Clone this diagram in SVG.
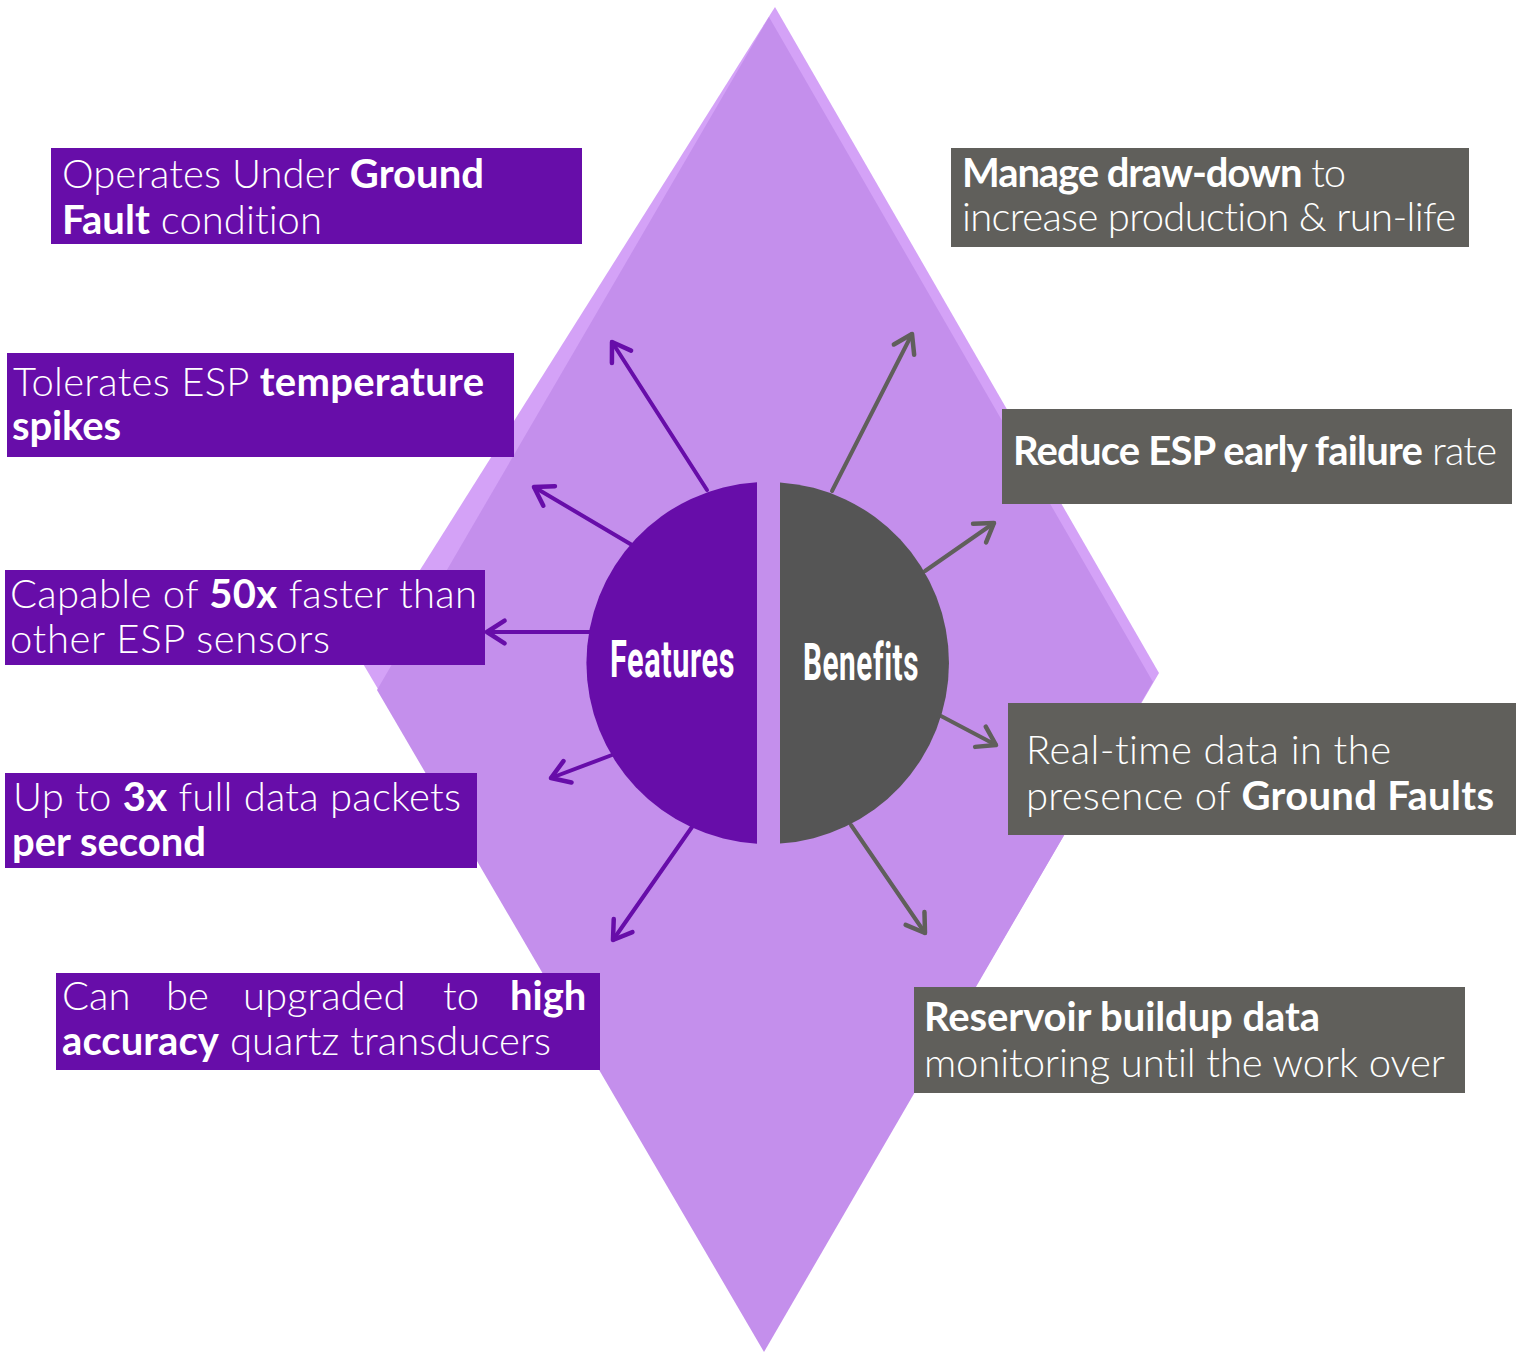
<svg xmlns="http://www.w3.org/2000/svg" width="1517" height="1352" viewBox="0 0 1517 1352">
<style>
.t{font-family:Lato,"Open Sans","Liberation Sans",sans-serif;font-size:40px;fill:#ffffff;font-weight:300;font-variant-ligatures:none}
.b{font-weight:700}
.pbox{fill:#670DA9}
.gbox{fill:#605F5B}
.big{font-family:Roboto,"Liberation Sans",sans-serif;font-weight:700;font-size:52px;fill:#ffffff;font-variant-ligatures:none;letter-spacing:1px}
.fa{fill:none;stroke:#670DA9;stroke-width:4;stroke-linecap:round}
.ba{fill:none;stroke:#605F5B;stroke-width:4;stroke-linecap:round}
</style>
<defs>
<marker id="mp" markerUnits="userSpaceOnUse" orient="auto" refX="0" refY="0" markerWidth="40" markerHeight="40" viewBox="-25 -20 40 40" overflow="visible">
<path d="M-17.6,-11.4 L0,0 L-17.6,11.4" fill="none" stroke="#670DA9" stroke-width="4.5" stroke-linecap="round" stroke-linejoin="round"/>
</marker>
<marker id="mg" markerUnits="userSpaceOnUse" orient="auto" refX="0" refY="0" markerWidth="40" markerHeight="40" viewBox="-25 -20 40 40" overflow="visible">
<path d="M-17.6,-11.4 L0,0 L-17.6,11.4" fill="none" stroke="#605F5B" stroke-width="4.5" stroke-linecap="round" stroke-linejoin="round"/>
</marker>
</defs>
<rect width="1517" height="1352" fill="#ffffff"/>
<g id="diamond">
<polygon points="775,7 1159,673 766,1345 362,662" fill="#D4A2F7"/>
<polygon points="769,17 1153,682 764,1352 377,690" fill="#C48FEC"/>
</g>
<g id="connectors">
<path class="fa" d="M707,490 L612,342" marker-end="url(#mp)"/>
<path class="fa" d="M632,545 L534,487" marker-end="url(#mp)"/>
<path class="fa" d="M590,632 L487,632" marker-end="url(#mp)"/>
<path class="fa" d="M612,755 L551,778" marker-end="url(#mp)"/>
<path class="fa" d="M692,827 L613,940" marker-end="url(#mp)"/>
<path class="ba" d="M832,491 L912,334" marker-end="url(#mg)"/>
<path class="ba" d="M925,571 L994,523" marker-end="url(#mg)"/>
<path class="ba" d="M941,716 L996,745" marker-end="url(#mg)"/>
<path class="ba" d="M851,825 L925,933" marker-end="url(#mg)"/>
</g>
<g id="features">
<path d="M757,482.3 A181,181 0 0 0 757,843.7 Z" fill="#670DA9"/>
<text class="big" x="610" y="677" textLength="125" lengthAdjust="spacingAndGlyphs">Features</text>
</g>
<g id="benefits">
<path d="M780,482.4 A181,181 0 0 1 780,843.6 Z" fill="#555555"/>
<text class="big" x="803" y="680" textLength="116" lengthAdjust="spacingAndGlyphs">Benefits</text>
</g>
<g id="f1">
<rect class="pbox" x="51" y="148" width="531" height="96"/>
<text class="t" x="62" y="188" textLength="422">Operates Under <tspan class="b">Ground</tspan></text>
<text class="t" x="62" y="234" textLength="260"><tspan class="b">Fault</tspan> condition</text>
</g>
<g id="f2">
<rect class="pbox" x="7" y="353" width="507" height="104"/>
<text class="t" x="13" y="396" textLength="471">Tolerates ESP <tspan class="b">temperature</tspan></text>
<text class="t b" x="12" y="440" textLength="109">spikes</text>
</g>
<g id="f3">
<rect class="pbox" x="5" y="570" width="480" height="95"/>
<text class="t" x="10" y="608" textLength="467">Capable of <tspan class="b">50x</tspan> faster than</text>
<text class="t" x="10" y="653" textLength="320">other ESP sensors</text>
</g>
<g id="f4">
<rect class="pbox" x="5" y="773" width="472" height="95"/>
<text class="t" x="13" y="811" textLength="448">Up to <tspan class="b">3x</tspan> full data packets</text>
<text class="t b" x="12" y="856" textLength="194">per second</text>
</g>
<g id="f5">
<rect class="pbox" x="56" y="973" width="544" height="97"/>
<text class="t" y="1010"><tspan x="62">Can</tspan><tspan x="166">be</tspan><tspan x="243">upgraded</tspan><tspan x="443">to</tspan><tspan class="b" x="510">high</tspan></text>
<text class="t" x="62" y="1055" textLength="489"><tspan class="b">accuracy</tspan> quartz transducers</text>
</g>
<g id="b1">
<rect class="gbox" x="951" y="148" width="518" height="99"/>
<text class="t" x="962" y="187" textLength="384"><tspan class="b">Manage draw-down</tspan> to</text>
<text class="t" x="962" y="231" textLength="494">increase production &amp; run-life</text>
</g>
<g id="b2">
<rect class="gbox" x="1002" y="409" width="510" height="95"/>
<text class="t" x="1013" y="465" textLength="484"><tspan class="b">Reduce ESP early failure</tspan> rate</text>
</g>
<g id="b3">
<rect class="gbox" x="1008" y="703" width="508" height="132"/>
<text class="t" x="1026" y="764" textLength="365">Real-time data in the</text>
<text class="t" x="1026" y="810" textLength="468">presence of <tspan class="b">Ground Faults</tspan></text>
</g>
<g id="b4">
<rect class="gbox" x="914" y="987" width="551" height="106"/>
<text class="t b" x="924" y="1031" textLength="396">Reservoir buildup data</text>
<text class="t" x="924" y="1077" textLength="521">monitoring until the work over</text>
</g>
</svg>
